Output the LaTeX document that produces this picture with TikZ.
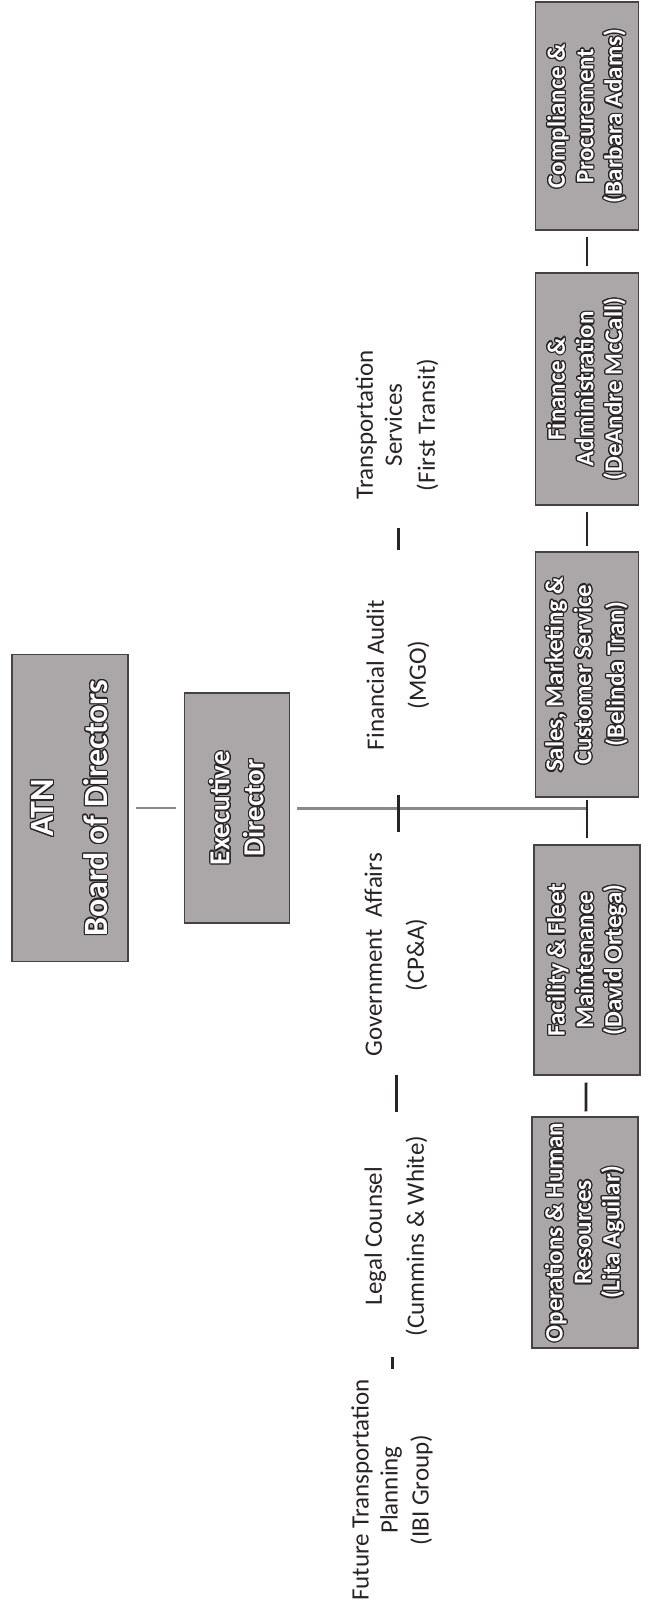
\documentclass[tikz,border=0pt]{standalone}
\usepackage{fontspec}
\setmainfont{Carlito}
\usepackage[copies]{contour}
\contourlength{1.2pt}
\contournumber{16}
\definecolor{boxfill}{RGB}{171,167,169}
\definecolor{boxedge}{RGB}{70,66,68}
\definecolor{linegray}{RGB}{140,136,138}
\definecolor{inkdark}{RGB}{40,36,38}
\newcommand{\wl}[1]{\contour{inkdark}{#1}}
\begin{document}
\begin{tikzpicture}[x=1pt,y=-1pt,
  orgbox/.style={draw=boxedge, line width=1.3pt, fill=boxfill, rotate=90,
    inner sep=0pt, align=center, text=white,
    font=\bfseries\fontsize{25}{28.5}\selectfont},
  bigbox/.style={orgbox, font=\bfseries\fontsize{34}{40}\selectfont},
  execbox/.style={orgbox, font=\bfseries\fontsize{29}{34}\selectfont},
  advisor/.style={rotate=90, align=center, text=inkdark, inner sep=0pt,
    font=\fontsize{25}{29}\selectfont},
  tickline/.style={draw=inkdark, line width=3pt},
  conn/.style={draw=inkdark, line width=2.8pt},
  hline/.style={draw=linegray, line width=3pt},
  bline/.style={draw=linegray, line width=2.4pt},
]
\useasboundingbox (0,0) rectangle (655,1606);

% top levels
\node[bigbox, minimum width=307pt, minimum height=116pt] (board) at (70,808)
  {\wl{ATN}\\[14pt]\wl{Board of Directors}};
\node[execbox, minimum width=230pt, minimum height=105pt] (exec) at (237,808)
  {\wl{Executive}\\\wl{Director}};

% department boxes
\node[orgbox, minimum width=228pt, minimum height=103pt] (comp) at (587,116)
  {\wl{Compliance \&}\\\wl{Procurement}\\\wl{(Barbara Adams)}};
\node[orgbox, minimum width=232pt, minimum height=103pt] (fin) at (587,389)
  {\wl{Finance \&}\\\wl{Administration}\\\wl{(DeAndre McCall)}};
\node[orgbox, minimum width=245pt, minimum height=103pt] (sales) at (587,674.5)
  {\wl{Sales, Marketing \&}\\\wl{Customer Service}\\[4pt]\wl{(Belinda Tran)}};
\node[orgbox, minimum width=230pt, minimum height=106pt] (fac) at (587,960)
  {\wl{Facility \& Fleet}\\\wl{Maintenance}\\\wl{(David Ortega)}};
\node[orgbox, minimum width=231pt, minimum height=106pt] (ops) at (585,1232.5)
  {\wl{Operations \& Human}\\\wl{Resources}\\\wl{(Lita Aguilar)}};

% advisors
\node[advisor] (trans) at (397,425) {Transportation\\Services\\[4pt](First Transit)};
\node[advisor] (audit) at (398,675) {Financial Audit\\[13pt](MGO)};
\node[advisor] (gov) at (396,955) {Government~ Affairs\\[13pt](CP\&A)};
\node[advisor] (legal) at (396,1236) {Legal Counsel\\[13pt](Cummins \& White)};
\node[advisor] (future) at (392,1490) {Future Transportation\\Planning\\[2pt](IBI Group)};

% connectors
\coordinate (j) at (587,808);
\draw[bline, shorten <=7pt, shorten >=8pt] (board) -- (exec);
\draw[hline] ([xshift=7pt]exec.south) -- (j);
\draw[conn, shorten <=6pt, shorten >=6pt] (comp) -- (fin);
\draw[conn, shorten <=6pt, shorten >=5pt] (fin) -- (sales);
\draw[conn, shorten <=2pt, shorten >=6pt] (sales) -- (fac);
\draw[conn, shorten <=7pt, shorten >=5pt] (fac) -- (ops);

\coordinate (t1a) at (398,528); \coordinate (t1b) at (398,550);
\coordinate (t2a) at (398,795); \coordinate (t2b) at (398,832);
\coordinate (t3a) at (396,1075); \coordinate (t3b) at (396,1112);
\coordinate (t4a) at (392,1357); \coordinate (t4b) at (392,1369);
\draw[tickline] (t1a) -- (t1b);
\draw[tickline] (t2a) -- (t2b);
\draw[tickline] (t3a) -- (t3b);
\draw[tickline] (t4a) -- (t4b);
\end{tikzpicture}
\end{document}
